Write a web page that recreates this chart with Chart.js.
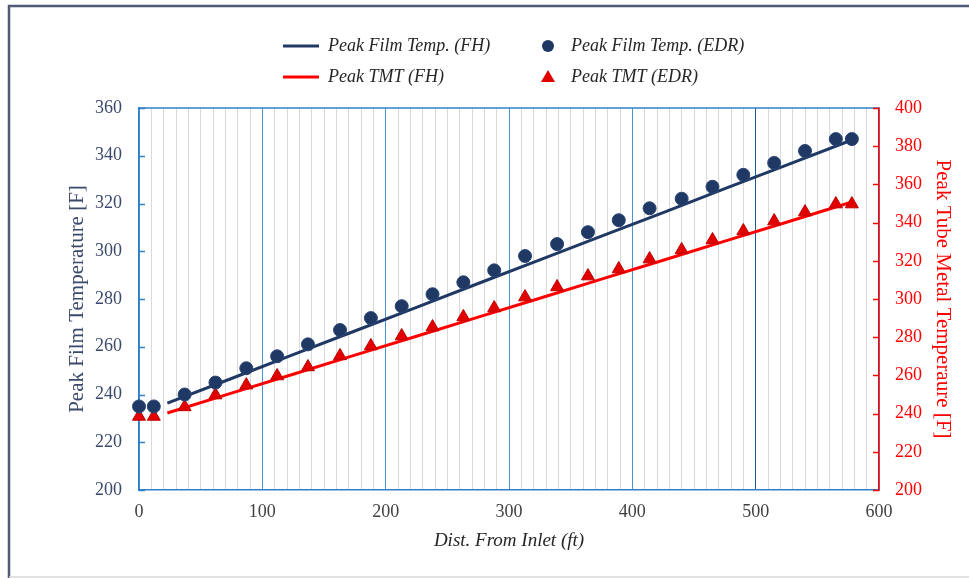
<!DOCTYPE html>
<html>
<head>
<meta charset="utf-8">
<script src="https://cdn.jsdelivr.net/npm/chart.js@4"></script>
<style>
  body { margin: 0; background: #fff; }
  #wrap { width: 969px; height: 578px; position: relative; }
</style>
</head>
<body>
<div id="wrap"><canvas id="chartTemp"></canvas></div>
<script>
// distances (ft) des points EDR
const distEDR = [0, 12, 37, 62, 87, 112, 137, 163, 188, 213, 238, 263, 288, 313, 339, 364, 389, 414, 440, 465, 490, 515, 540, 565, 578];
const filmEDR = [235, 235, 240, 245, 251, 256, 261, 267, 272, 277, 282, 287, 292, 298, 303, 308, 313, 318, 322, 327, 332, 337, 342, 347, 347];
const tmtEDR = [238.5, 238.5, 243.5, 249.7, 254.9, 259.7, 264.4, 270.2, 275.4, 280.6, 285.3, 290.6, 295.3, 301, 306.3, 312, 315.7, 320.9, 325.7, 330.9, 335.6, 340.8, 345.5, 349.7, 349.7];

// courbes FH
const distFH = [23, 75, 125, 175, 225, 275, 325, 375, 425, 475, 525, 578];
const filmFH = [236.4, 246.7, 256.7, 266.6, 276.5, 286.5, 296.4, 306.3, 316.2, 326.2, 336.1, 346.6];
const tmtFH = [240.3, 250.7, 260.6, 270.6, 280.5, 290.5, 300.4, 310.4, 320.3, 330.3, 340.2, 350.8];

const labelsLegend = ['Peak Film Temp. (FH)', 'Peak Film Temp. (EDR)', 'Peak TMT (FH)', 'Peak TMT (EDR)'];
const xTicks = [0, 100, 200, 300, 400, 500, 600];
const leftTicks = [200, 220, 240, 260, 280, 300, 320, 340, 360];
const rightTicks = [200, 220, 240, 260, 280, 300, 320, 340, 360, 380, 400];

const NAVY = '#203864';
const RED = '#ff0000';
const serif = '"Liberation Serif", "DejaVu Serif", serif';

function toXY(xs, ys) {
    return xs.map((x, i) => ({ x: x, y: ys[i] }));
}

// cadre + petites graduations + légende
const decorPlugin = {
    id: 'decor',
    beforeDraw(chart) {
        const ctx = chart.ctx;
        ctx.save();
        ctx.fillStyle = '#fff';
        ctx.fillRect(0, 0, chart.width, chart.height);
        // bordure extérieure
        ctx.strokeStyle = '#4d5b74';
        ctx.lineWidth = 2.5;
        ctx.beginPath();
        ctx.moveTo(9, 578);
        ctx.lineTo(9, 6);
        ctx.lineTo(969, 6);
        ctx.stroke();
        ctx.strokeStyle = '#d9d9d9';
        ctx.lineWidth = 1.5;
        ctx.beginPath();
        ctx.moveTo(9, 577);
        ctx.lineTo(969, 577);
        ctx.stroke();
        ctx.restore();
    },
    beforeDatasetsDraw(chart) {
        const ctx = chart.ctx;
        const a = chart.chartArea;
        const y = chart.scales.y, y2 = chart.scales.y2;
        ctx.save();
        // ligne du haut
        ctx.strokeStyle = '#2f80c8';
        ctx.lineWidth = 1.5;
        ctx.beginPath();
        ctx.moveTo(a.left, a.top);
        ctx.lineTo(a.right, a.top);
        ctx.stroke();
        // graduations vers l'intérieur
        ctx.lineWidth = 1.5;
        ctx.strokeStyle = '#2f80c8';
        leftTicks.forEach(v => {
            const py = Math.round(y.getPixelForValue(v)) + 0.5;
            ctx.beginPath();
            ctx.moveTo(a.left, py);
            ctx.lineTo(a.left + 6, py);
            ctx.stroke();
        });
        ctx.strokeStyle = RED;
        rightTicks.forEach(v => {
            const py = Math.round(y2.getPixelForValue(v)) + 0.5;
            ctx.beginPath();
            ctx.moveTo(a.right, py);
            ctx.lineTo(a.right - 6, py);
            ctx.stroke();
        });
        ctx.restore();
    },
    afterDraw(chart) {
        const ctx = chart.ctx;
        ctx.save();
        ctx.font = 'italic 18px ' + serif;
        ctx.fillStyle = '#262626';
        ctx.textBaseline = 'middle';
        const rows = [46, 77];
        // colonne 1 : lignes
        [[0, NAVY], [2, RED]].forEach(([i, c], r) => {
            ctx.strokeStyle = c;
            ctx.lineWidth = 3;
            ctx.beginPath();
            ctx.moveTo(283, rows[r]);
            ctx.lineTo(319, rows[r]);
            ctx.stroke();
            ctx.fillText(labelsLegend[i], 328, rows[r]);
        });
        // colonne 2 : marqueurs
        ctx.fillStyle = NAVY;
        ctx.beginPath();
        ctx.arc(548, rows[0], 6, 0, Math.PI * 2);
        ctx.fill();
        ctx.fillStyle = '#e00000';
        ctx.beginPath();
        ctx.moveTo(548, rows[1] - 7);
        ctx.lineTo(555, rows[1] + 5);
        ctx.lineTo(541, rows[1] + 5);
        ctx.closePath();
        ctx.fill();
        ctx.fillStyle = '#262626';
        ctx.fillText(labelsLegend[1], 571, rows[0]);
        ctx.fillText(labelsLegend[3], 571, rows[1]);
        ctx.restore();
    }
};

let ctxTemp = document.getElementById('chartTemp');

let myChart = new Chart(ctxTemp, {
    type: 'scatter',
    data: {
        datasets: [{
            label: labelsLegend[1],
            data: toXY(distEDR, filmEDR),
            yAxisID: 'y',
            pointStyle: 'circle',
            pointRadius: 6.5,
            backgroundColor: NAVY,
            borderColor: '#2a4675',
            borderWidth: 1,
            clip: false,
            order: 0
        }, {
            label: labelsLegend[3],
            data: toXY(distEDR, tmtEDR),
            yAxisID: 'y2',
            pointStyle: 'triangle',
            pointRadius: 7.5,
            backgroundColor: '#e00000',
            borderColor: '#c00000',
            borderWidth: 1,
            clip: false,
            order: 0
        }, {
            label: labelsLegend[0],
            data: toXY(distFH, filmFH),
            yAxisID: 'y',
            showLine: true,
            pointRadius: 0,
            borderColor: NAVY,
            borderWidth: 3,
            order: 1
        }, {
            label: labelsLegend[2],
            data: toXY(distFH, tmtFH),
            yAxisID: 'y2',
            showLine: true,
            pointRadius: 0,
            borderColor: RED,
            borderWidth: 3,
            order: 1
        }]
    },
    options: {
        responsive: true,
        maintainAspectRatio: false,
        animation: false,
        layout: { padding: { top: 108, left: 0, right: 0, bottom: 0 } },
        plugins: {
            legend: { display: false },
            tooltip: { enabled: false }
        },
        scales: {
            x: {
                type: 'linear',
                min: 0,
                max: 600,
                afterFit: s => { s.height = 88; },
                afterBuildTicks: s => {
                    const t = [];
                    for (let v = 0; v <= 600; v += 10) t.push({ value: v });
                    s.ticks = t;
                },
                ticks: {
                    autoSkip: false,
                    maxRotation: 0,
                    padding: 11,
                    color: '#404040',
                    font: { family: serif, size: 18 },
                    callback: v => (xTicks.includes(v) ? String(v) : '')
                },
                grid: {
                    drawTicks: false,
                    lineWidth: 1,
                    color: c => {
                        const v = c.tick ? c.tick.value : 0;
                        if (v === 500) return '#1f5a8e';
                        return v % 100 === 0 ? '#4a94d0' : '#d9d9d9';
                    }
                },
                border: { display: true, color: '#2f80c8', width: 1.5 },
                title: {
                    display: true,
                    text: 'Dist. From Inlet (ft)',
                    color: '#262626',
                    font: { family: serif, size: 19, style: 'italic' },
                    padding: { top: 0, bottom: 26 }
                }
            },
            y: {
                position: 'left',
                min: 200,
                max: 360,
                afterFit: s => { s.width = 139; },
                ticks: {
                    stepSize: 20,
                    padding: 17,
                    color: '#3b4a6b',
                    font: { family: serif, size: 18 }
                },
                grid: { display: false, drawTicks: false },
                border: { display: true, color: '#2f80c8', width: 1.5 },
                title: {
                    display: true,
                    text: 'Peak Film Temperature [F]',
                    color: '#3b4a6b',
                    font: { family: serif, size: 21 },
                    padding: { top: 65, bottom: 0 }
                }
            },
            y2: {
                position: 'right',
                min: 200,
                max: 400,
                afterFit: s => { s.width = 90; },
                ticks: {
                    stepSize: 20,
                    padding: 16,
                    color: RED,
                    font: { family: serif, size: 18 }
                },
                grid: { display: false, drawOnChartArea: false, drawTicks: false },
                border: { display: true, color: RED, width: 1.5 },
                title: {
                    display: true,
                    text: 'Peak Tube Metal Temperaure [F]',
                    color: RED,
                    font: { family: serif, size: 21 },
                    padding: { top: 14, bottom: 0 }
                }
            }
        }
    },
    plugins: [decorPlugin]
});
</script>
</body>
</html>
